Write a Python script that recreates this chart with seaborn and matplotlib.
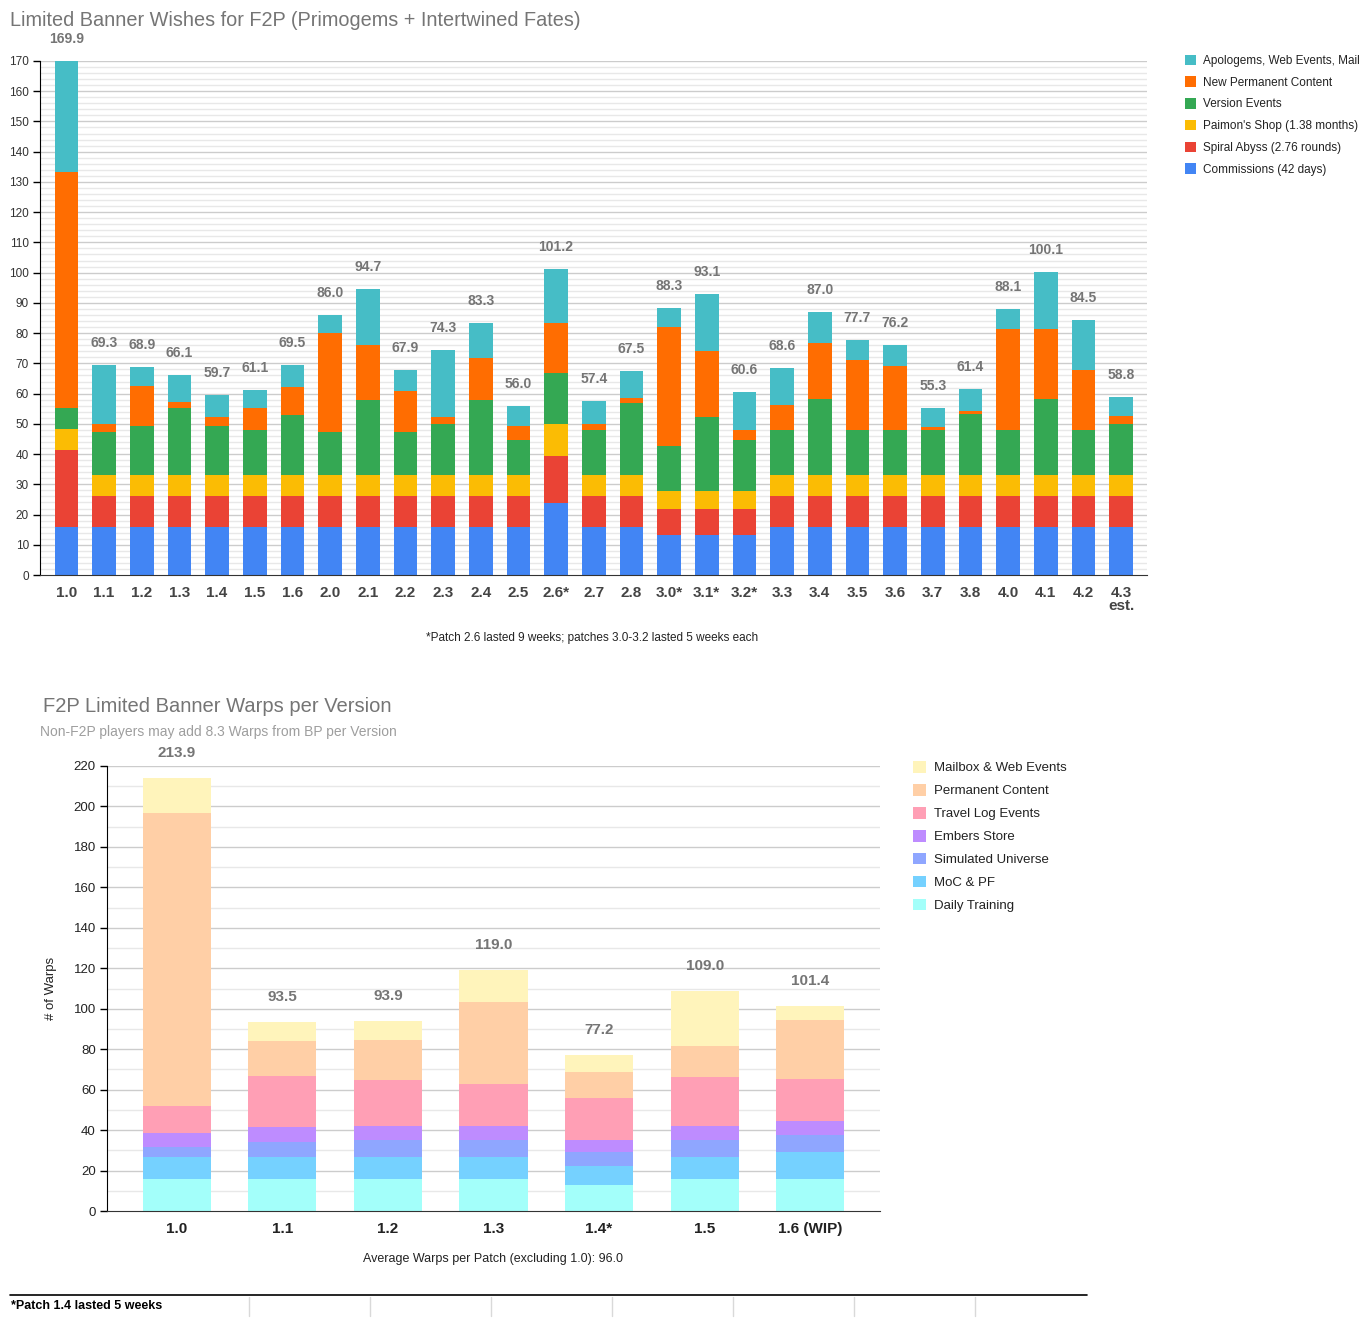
import numpy as np
import pandas as pd
import matplotlib
matplotlib.use('Agg')
import matplotlib.pyplot as plt
import seaborn as sns
from matplotlib.patches import Patch
from matplotlib.lines import Line2D

# ---- top chart data (Genshin) ----
patches = ['1.0', '1.1', '1.2', '1.3', '1.4', '1.5', '1.6', '2.0', '2.1', '2.2',
           '2.3', '2.4', '2.5', '2.6*', '2.7', '2.8', '3.0*', '3.1*', '3.2*', '3.3',
           '3.4', '3.5', '3.6', '3.7', '3.8', '4.0', '4.1', '4.2', '4.3\nest.']
commissions = [15.8, 15.8, 15.8, 15.8, 15.8, 15.8, 15.8, 15.8, 15.8, 15.8,
               15.8, 15.8, 15.8, 23.8, 15.8, 15.8, 13.2, 13.2, 13.2, 15.8,
               15.8, 15.8, 15.8, 15.8, 15.8, 15.8, 15.8, 15.8, 15.8]
abyss = [25.6, 10.3, 10.3, 10.3, 10.3, 10.3, 10.3, 10.3, 10.3, 10.3,
         10.3, 10.3, 10.3, 15.6, 10.3, 10.3, 8.6, 8.6, 8.6, 10.3,
         10.3, 10.3, 10.3, 10.3, 10.3, 10.3, 10.3, 10.3, 10.3]
shop = [7.0, 7.0, 7.0, 7.0, 7.0, 7.0, 7.0, 7.0, 7.0, 7.0,
        7.0, 7.0, 7.0, 10.4, 7.0, 7.0, 6.0, 6.0, 6.0, 7.0,
        7.0, 7.0, 7.0, 7.0, 7.0, 7.0, 7.0, 7.0, 7.0]
version_events = [7.0, 14.3, 16.1, 22.3, 16.3, 14.7, 19.7, 14.3, 24.8, 14.1,
                  16.8, 24.8, 11.7, 17.0, 14.8, 23.7, 15.0, 24.6, 17.0, 14.8,
                  25.0, 15.0, 14.8, 15.0, 20.3, 15.0, 25.0, 15.0, 16.8]
new_permanent = [77.8, 2.7, 13.4, 1.8, 2.7, 7.6, 9.3, 32.5, 18.2, 13.6,
                 2.2, 14.0, 4.6, 16.6, 2.0, 1.6, 39.3, 21.7, 3.3, 8.2,
                 18.5, 23.1, 21.3, 1.0, 0.7, 33.3, 23.1, 19.8, 2.7]
apologems = [36.7, 19.2, 6.3, 8.9, 7.6, 5.7, 7.4, 6.1, 18.6, 7.1,
             22.2, 11.4, 6.6, 17.8, 7.5, 9.1, 6.2, 19.0, 12.5, 12.5,
             10.4, 6.5, 7.0, 6.2, 7.3, 6.7, 18.9, 16.6, 6.2]

top_series = ['Commissions (42 days)', 'Spiral Abyss (2.76 rounds)',
              "Paimon's Shop (1.38 months)", 'Version Events',
              'New Permanent Content', 'Apologems, Web Events, Mail']
top_colors = ['#4285F4', '#EA4335', '#FBBC04', '#34A853', '#FF6D01', '#46BDC6']

# ---- bottom chart data (Star Rail) ----
versions = ['1.0', '1.1', '1.2', '1.3', '1.4*', '1.5', '1.6 (WIP)']
daily_training = [15.8, 15.8, 15.8, 15.8, 12.9, 15.8, 15.8]
moc_pf = [10.9, 10.9, 10.9, 10.9, 9.4, 10.9, 13.4]
sim_universe = [5.0, 7.6, 8.6, 8.6, 7.1, 8.6, 8.4]
embers = [6.9, 7.0, 6.9, 6.8, 5.7, 6.8, 7.0]
travel_log = [13.4, 25.5, 22.7, 20.8, 20.8, 24.2, 20.7]
permanent = [144.7, 17.4, 19.8, 40.6, 12.9, 15.4, 29.3]
mailbox = [17.2, 9.3, 9.2, 15.5, 8.4, 27.3, 6.8]

bot_series = ['Daily Training', 'MoC & PF', 'Simulated Universe', 'Embers Store',
              'Travel Log Events', 'Permanent Content', 'Mailbox & Web Events']
bot_colors = ['#A3FFFA', '#75D1FF', '#8FA6FF', '#BE8CFF', '#FF9FB5', '#FFCFA6', '#FFF4BB']

sns.set_style('white')
plt.rcParams['font.family'] = ['Liberation Sans', 'DejaVu Sans']

fig = plt.figure(figsize=(13.7, 13.25), dpi=100)


def stacked(ax, cats, layers, colors, width):
    df = pd.DataFrame({'cat': cats})
    cum = np.cumsum(np.array(layers), axis=0)
    # draw from the top layer down so lower layers cover the upper ones
    for i in range(len(layers) - 1, -1, -1):
        df['val'] = cum[i]
        sns.barplot(data=df, x='cat', y='val', color=colors[i], width=width,
                    saturation=1, ax=ax, zorder=3, linewidth=0, edgecolor='none')
    return cum[-1]


def grid_lines(ax, major, minor, ymax):
    for v in np.arange(0, ymax + 0.01, minor):
        if v == 0:
            continue
        if abs(v / major - round(v / major)) < 1e-6:
            ax.axhline(v, color='#cccccc', lw=1, zorder=1)
        else:
            ax.axhline(v, color='#e8e8e8', lw=1, zorder=1)


# ================= top chart =================
ax1 = fig.add_axes([0.0292, 0.566, 0.8078, 0.388])
top_layers = [commissions, abyss, shop, version_events, new_permanent, apologems]
totals = stacked(ax1, patches, top_layers, top_colors, 0.63)
grid_lines(ax1, 10, 2, 170)
ax1.set_ylim(0, 170)
ax1.set_xlim(-0.7, len(patches) - 0.32)
ax1.set_yticks(np.arange(0, 171, 10))
ax1.tick_params(axis='y', labelsize=8.5, length=5, width=1, color='black',
                labelcolor='#333333', pad=3, left=True)
ax1.tick_params(axis='x', labelsize=11, length=0, pad=8, labelcolor='#444444')
for lbl in ax1.get_xticklabels():
    lbl.set_fontweight('bold')
    lbl.set_linespacing(0.85)
for s in ['top', 'right']:
    ax1.spines[s].set_visible(False)
ax1.spines['left'].set_color('black')
ax1.spines['bottom'].set_color('#333333')
ax1.spines['left'].set_zorder(5)
ax1.spines['bottom'].set_zorder(5)
ax1.set_xlabel('')
ax1.set_ylabel('')
for i, t in enumerate(totals):
    ax1.annotate(f'{t:.1f}', (i, t), xytext=(0, 22), textcoords='offset pixels',
                 ha='center', va='center', fontsize=10, fontweight='bold',
                 color='#757575', zorder=6)

fig.text(10 / 1370, 1 - 20 / 1325, 'Limited Banner Wishes for F2P (Primogems + Intertwined Fates)',
         fontsize=14.3, color='#757575', ha='left', va='center')
fig.text(592 / 1370, 1 - 638 / 1325,
         '*Patch 2.6 lasted 9 weeks; patches 3.0-3.2 lasted 5 weeks each',
         fontsize=8.5, color='#222222', ha='center', va='center')

h1 = [Patch(facecolor=top_colors[i], edgecolor='none', label=top_series[i])
      for i in range(len(top_series) - 1, -1, -1)]
fig.legend(handles=h1, loc='upper left', bbox_to_anchor=(1181 / 1370, 1 - 51 / 1325),
           frameon=False, fontsize=8.5, handlelength=1.0, handleheight=1.0,
           handletextpad=0.6, labelspacing=0.8, borderaxespad=0, borderpad=0.3,
           labelcolor='#222222')

# ================= bottom chart =================
ax2 = fig.add_axes([0.0781, 0.0860, 0.5642, 0.3359])
bot_layers = [daily_training, moc_pf, sim_universe, embers, travel_log, permanent, mailbox]
totals2 = stacked(ax2, versions, bot_layers, bot_colors, 0.645)
grid_lines(ax2, 20, 10, 220)
ax2.set_ylim(0, 220)
ax2.set_xlim(-0.66, len(versions) - 0.34)
ax2.set_yticks(np.arange(0, 221, 20))
ax2.tick_params(axis='y', labelsize=9.5, length=5, width=1, color='black',
                labelcolor='#222222', pad=3, left=True)
ax2.tick_params(axis='x', labelsize=11, length=0, pad=8, labelcolor='#222222')
for lbl in ax2.get_xticklabels():
    lbl.set_fontweight('bold')
for s in ['top', 'right']:
    ax2.spines[s].set_visible(False)
ax2.spines['left'].set_color('black')
ax2.spines['bottom'].set_color('#333333')
ax2.spines['left'].set_zorder(5)
ax2.spines['bottom'].set_zorder(5)
ax2.set_xlabel('Average Warps per Patch (excluding 1.0): 96.0', fontsize=9,
               color='#222222', labelpad=12)
ax2.set_ylabel('# of Warps', fontsize=9.5, color='#222222', labelpad=12)
for i, t in enumerate(totals2):
    ax2.annotate(f'{t:.1f}', (i, t), xytext=(0, 25), textcoords='offset pixels',
                 ha='center', va='center', fontsize=11, fontweight='bold',
                 color='#757575', zorder=6)

fig.text(43 / 1370, 1 - 707 / 1325, 'F2P Limited Banner Warps per Version',
         fontsize=14.5, color='#757575', ha='left', va='center')
fig.text(40 / 1370, 1 - 732 / 1325, 'Non-F2P players may add 8.3 Warps from BP per Version',
         fontsize=10, color='#9e9e9e', ha='left', va='center')

h2 = [Patch(facecolor=bot_colors[i], edgecolor='none', label=bot_series[i])
      for i in range(len(bot_series) - 1, -1, -1)]
fig.legend(handles=h2, loc='upper left', bbox_to_anchor=(909 / 1370, 1 - 757 / 1325),
           frameon=False, fontsize=9.5, handlelength=1.0, handleheight=1.0,
           handletextpad=0.6, labelspacing=0.72, borderaxespad=0, borderpad=0.3,
           labelcolor='#222222')

# footer row
fy = 1 - 1295 / 1325
fig.add_artist(Line2D([10 / 1370, 1087 / 1370], [fy, fy], color='black', lw=1.2))
for xv in [249, 370, 491, 612, 733, 854, 975]:
    fig.add_artist(Line2D([xv / 1370, xv / 1370], [1 - 1297 / 1325, 1 - 1316 / 1325],
                          color='#d9d9d9', lw=1))
fig.text(11 / 1370, 1 - 1306 / 1325, '*Patch 1.4 lasted 5 weeks', fontsize=9,
         fontweight='bold', color='black', ha='left', va='center')

fig.savefig('out.png', dpi=100)
